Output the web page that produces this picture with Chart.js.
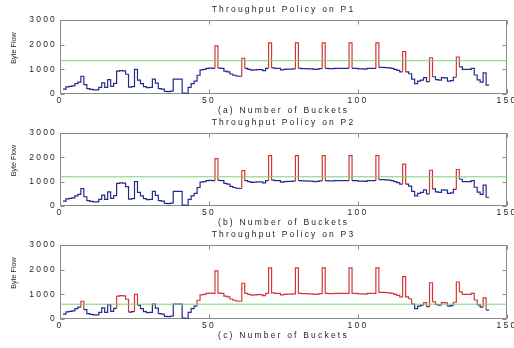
<!DOCTYPE html>
<html>
<head>
<meta charset="utf-8">
<script src="https://cdn.jsdelivr.net/npm/chart.js@4.4.1/dist/chart.umd.min.js"></script>
<style>
  body { margin: 0; background: #fff; }
  #wrap { position: relative; width: 514px; height: 348px; overflow: hidden; }
  #wrap canvas { position: absolute; left: 0; }
</style>
</head>
<body>
<div id="wrap">
  <canvas id="p1" width="514" height="116" style="top:0px"></canvas>
  <canvas id="p2" width="514" height="115" style="top:113px"></canvas>
  <canvas id="p3" width="514" height="116" style="top:225px"></canvas>
</div>
<script>
// byte flow per bucket, buckets numbered from 1
var firstBucket = 1;
var byteFlow = [
  200, 290, 310, 330, 420, 480, 720, 380, 220, 190,
  170, 170, 270, 450, 270, 580, 310, 430, 930, 950,
  940, 800, 280, 300, 1000, 560, 420, 300, 260, 270,
  600, 440, 220, 200, 110, 100, 120, 600, 600, 600,
  40, 30, 270, 420, 520, 760, 980, 1000, 1040, 1050,
  1040, 1950, 1050, 1040, 930, 900, 810, 760, 730, 720,
  1450, 1040, 1000, 970, 980, 990, 990, 950, 1040, 2070,
  1060, 1040, 1040, 980, 1000, 1010, 1010, 1020, 2070, 1040,
  1030, 1030, 1020, 1020, 1000, 1010, 1030, 2070, 1040, 1030,
  1030, 1040, 1040, 1040, 1040, 1040, 2070, 1040, 1040, 1020,
  1020, 1010, 1040, 1040, 1040, 2070, 1080, 1080, 1070, 1060,
  1040, 1000, 960, 900, 1720, 900, 820, 600, 420, 520,
  560, 660, 500, 1470, 700, 580, 560, 660, 650, 520,
  540, 680, 1500, 1100, 1000, 1000, 1000, 1040, 770, 570,
  480, 860, 360, 360
];
var policyLimit = [1350, 1200, 600];
var panelTitles = ['Throughput Policy on P1', 'Throughput Policy on P2', 'Throughput Policy on P3'];
var bucketTitles = ['(a) Number of Buckets', '(b) Number of Buckets', '(c) Number of Buckets'];
var xTicks = [0, 50, 100, 150];
var yTicks = [0, 1000, 2000, 3000];

var bucketNo = byteFlow.map(function (v, i) { return firstBucket + i; });

var BLUE = '#262a8c', RED = '#d03838', GREEN = '#74d474', FRAME = '#8a8a8a', TEXT = '#262626';

Chart.defaults.font.family = "'Liberation Sans', Arial, sans-serif";
Chart.defaults.color = TEXT;

// stairs: each value holds until the next bucket
function stairs(xs, ys) {
  var pts = [];
  for (var i = 0; i < ys.length; i++) {
    pts.push({x: xs[i], y: ys[i]});
    if (i + 1 < ys.length) pts.push({x: xs[i + 1], y: ys[i]});
  }
  return pts;
}

// wide letter spacing for the axis text
var spacing = {
  id: 'spacing',
  beforeUpdate: function (chart) { chart.ctx.letterSpacing = '2.2px'; },
  beforeDraw: function (chart) { chart.ctx.letterSpacing = '2.2px'; }
};

// box round the axes with inward tick marks, plus the y label
var axesBox = {
  id: 'axesBox',
  beforeDatasetsDraw: function (chart) {
    var ctx = chart.ctx, a = chart.chartArea, sx = chart.scales.x, sy = chart.scales.y;
    var l = Math.round(a.left) + 0.5, r = Math.round(a.right) - 0.5;
    var t = Math.round(a.top) + 0.5, b = Math.round(a.bottom) - 0.5;
    ctx.save();
    ctx.strokeStyle = FRAME;
    ctx.lineWidth = 1;
    ctx.strokeRect(l, t, r - l, b - t);
    ctx.beginPath();
    sx.ticks.forEach(function (tk) {
      var px = Math.round(sx.getPixelForValue(tk.value)) + 0.5;
      ctx.moveTo(px, b); ctx.lineTo(px, b - 4);
      ctx.moveTo(px, t); ctx.lineTo(px, t + 4);
    });
    sy.ticks.forEach(function (tk) {
      var py = Math.round(sy.getPixelForValue(tk.value)) + 0.5;
      ctx.moveTo(l, py); ctx.lineTo(l + 4, py);
      ctx.moveTo(r, py); ctx.lineTo(r - 4, py);
    });
    ctx.stroke();
    ctx.restore();
  },
  afterDraw: function (chart) {
    var ctx = chart.ctx, a = chart.chartArea;
    ctx.save();
    ctx.letterSpacing = '0px';
    ctx.fillStyle = TEXT;
    ctx.font = "7.2px 'Liberation Sans', Arial, sans-serif";
    ctx.translate(14.5, (a.top + a.bottom) / 2 - 9);
    ctx.rotate(-Math.PI / 2);
    ctx.textAlign = 'center';
    ctx.textBaseline = 'middle';
    ctx.fillText('Byte Flow', 0, 0);
    ctx.restore();
  }
};

function plainNumber(v) { return String(v); }

function drawPanel(canvasId, k) {
  var limit = policyLimit[k];
  var ctx = document.getElementById(canvasId).getContext('2d');
  return new Chart(ctx, {
    type: 'line',
    data: {
      datasets: [
        {
          label: 'policy',
          data: [{x: xTicks[0], y: limit}, {x: xTicks[xTicks.length - 1], y: limit}],
          borderColor: GREEN,
          borderWidth: 1,
          pointRadius: 0
        },
        {
          label: 'flow',
          data: stairs(bucketNo, byteFlow),
          borderWidth: 1.2,
          pointRadius: 0,
          tension: 0,
          borderColor: BLUE,
          segment: {
            borderColor: function (c) {
              return Math.max(c.p0.parsed.y, c.p1.parsed.y) > limit ? RED : BLUE;
            }
          }
        }
      ]
    },
    options: {
      responsive: false,
      animation: false,
      devicePixelRatio: 1,
      layout: { padding: { left: 0, right: 7, top: 0, bottom: 0 } },
      scales: {
        x: {
          type: 'linear',
          min: xTicks[0],
          max: xTicks[xTicks.length - 1],
          grid: { display: false, drawTicks: false },
          border: { display: false },
          afterBuildTicks: function (s) { s.ticks = xTicks.map(function (v) { return {value: v}; }); },
          ticks: { font: { size: 8.5 }, padding: 1.5, maxRotation: 0, autoSkip: false, callback: plainNumber },
          title: { display: true, text: bucketTitles[k], font: { size: 8.5 }, padding: { top: 0, bottom: 0 } },
          afterFit: function (s) { s.height = 22; s.paddingLeft = 0; s.paddingRight = 0; }
        },
        y: {
          min: yTicks[0],
          max: yTicks[yTicks.length - 1],
          grid: { display: false, drawTicks: false },
          border: { display: false },
          afterBuildTicks: function (s) { s.ticks = yTicks.map(function (v) { return {value: v}; }); },
          ticks: { font: { size: 8.5 }, padding: 3, callback: plainNumber },
          afterFit: function (s) { s.width = 60; }
        }
      },
      plugins: {
        legend: { display: false },
        tooltip: { enabled: false },
        title: {
          display: true,
          fullSize: false,
          text: panelTitles[k],
          font: { size: 8.5, weight: 'normal' },
          color: TEXT,
          padding: { top: 5, bottom: 4.8 }
        }
      }
    },
    plugins: [spacing, axesBox]
  });
}

drawPanel('p1', 0);
drawPanel('p2', 1);
drawPanel('p3', 2);
</script>
</body>
</html>
